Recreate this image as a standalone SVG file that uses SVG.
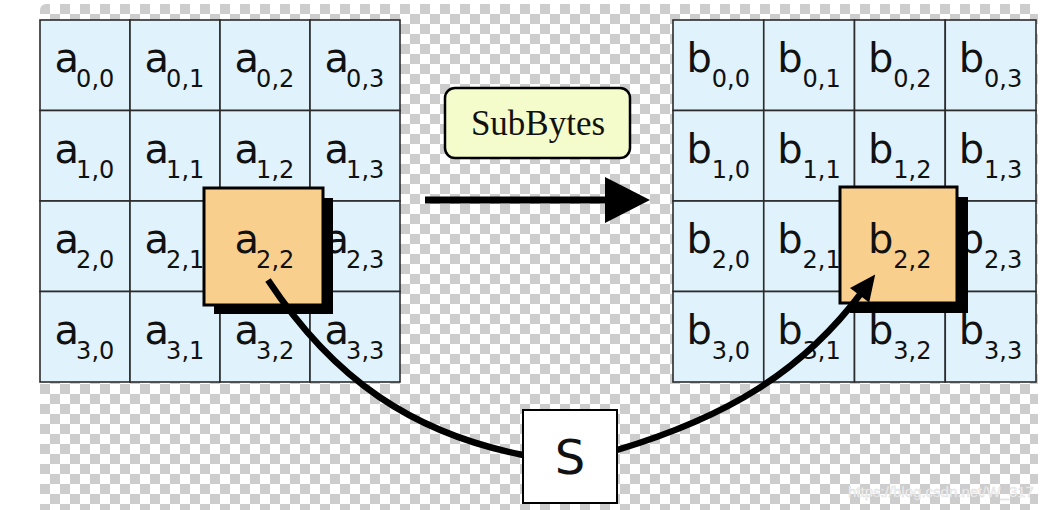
<svg xmlns="http://www.w3.org/2000/svg" width="1052" height="510" viewBox="0 0 1052 510">
<defs>
<pattern id="chk" width="20" height="20" patternUnits="userSpaceOnUse" x="40" y="4">
<rect width="20" height="20" fill="#ffffff"/>
<rect width="10" height="10" fill="#cdcdcd"/>
<rect x="10" y="10" width="10" height="10" fill="#cdcdcd"/>
</pattern>
<marker id="ah" markerUnits="userSpaceOnUse" orient="auto" markerWidth="40" markerHeight="40" refX="0" refY="0" viewBox="-10 -20 40 40" overflow="visible">
<path d="M-4,-12 L22,0 L-4,12 Z" fill="#000"/>
</marker>
</defs>
<style>
.cell{fill:#e0f2fc;stroke:#2b2b2b;stroke-width:1.6}
.lbl{font-family:"DejaVu Sans",sans-serif;font-size:40px;fill:#111}
.sub{font-size:24px}
.hi{fill:#f9cf8d;stroke:#000;stroke-width:3}
.shadow{fill:#000}
.conn{fill:none;stroke:#000;stroke-width:6.5}
</style>
<rect x="0" y="0" width="1052" height="510" fill="#ffffff"/>
<rect x="40" y="4" width="998" height="530" rx="6" fill="url(#chk)"/>

<g id="gridA">
<g id="a00"><rect class="cell" x="40" y="20" width="90" height="90.5"/><text class="lbl" x="54.6" y="72">a<tspan class="sub" dx="-3" dy="15">0,0</tspan></text></g>
<g id="a01"><rect class="cell" x="130" y="20" width="90" height="90.5"/><text class="lbl" x="144.6" y="72">a<tspan class="sub" dx="-3" dy="15">0,1</tspan></text></g>
<g id="a02"><rect class="cell" x="220" y="20" width="90" height="90.5"/><text class="lbl" x="234.6" y="72">a<tspan class="sub" dx="-3" dy="15">0,2</tspan></text></g>
<g id="a03"><rect class="cell" x="310" y="20" width="90" height="90.5"/><text class="lbl" x="324.6" y="72">a<tspan class="sub" dx="-3" dy="15">0,3</tspan></text></g>
<g id="a10"><rect class="cell" x="40" y="110.5" width="90" height="90.5"/><text class="lbl" x="54.6" y="162.5">a<tspan class="sub" dx="-3" dy="15">1,0</tspan></text></g>
<g id="a11"><rect class="cell" x="130" y="110.5" width="90" height="90.5"/><text class="lbl" x="144.6" y="162.5">a<tspan class="sub" dx="-3" dy="15">1,1</tspan></text></g>
<g id="a12"><rect class="cell" x="220" y="110.5" width="90" height="90.5"/><text class="lbl" x="234.6" y="162.5">a<tspan class="sub" dx="-3" dy="15">1,2</tspan></text></g>
<g id="a13"><rect class="cell" x="310" y="110.5" width="90" height="90.5"/><text class="lbl" x="324.6" y="162.5">a<tspan class="sub" dx="-3" dy="15">1,3</tspan></text></g>
<g id="a20"><rect class="cell" x="40" y="201" width="90" height="90.5"/><text class="lbl" x="54.6" y="253">a<tspan class="sub" dx="-3" dy="15">2,0</tspan></text></g>
<g id="a21"><rect class="cell" x="130" y="201" width="90" height="90.5"/><text class="lbl" x="144.6" y="253">a<tspan class="sub" dx="-3" dy="15">2,1</tspan></text></g>
<g id="a23"><rect class="cell" x="310" y="201" width="90" height="90.5"/><text class="lbl" x="324.6" y="253">a<tspan class="sub" dx="-3" dy="15">2,3</tspan></text></g>
<g id="a30"><rect class="cell" x="40" y="291.5" width="90" height="90.5"/><text class="lbl" x="54.6" y="343.5">a<tspan class="sub" dx="-3" dy="15">3,0</tspan></text></g>
<g id="a31"><rect class="cell" x="130" y="291.5" width="90" height="90.5"/><text class="lbl" x="144.6" y="343.5">a<tspan class="sub" dx="-3" dy="15">3,1</tspan></text></g>
<g id="a32"><rect class="cell" x="220" y="291.5" width="90" height="90.5"/><text class="lbl" x="234.6" y="343.5">a<tspan class="sub" dx="-3" dy="15">3,2</tspan></text></g>
<g id="a33"><rect class="cell" x="310" y="291.5" width="90" height="90.5"/><text class="lbl" x="324.6" y="343.5">a<tspan class="sub" dx="-3" dy="15">3,3</tspan></text></g>
<rect x="220" y="201" width="90" height="90.5" class="cell"/>
</g>
<g id="a22">
<rect class="shadow" x="214" y="198" width="119" height="116"/>
<rect class="hi" x="204" y="188" width="119" height="117"/>
<text class="lbl" x="234.6" y="253">a<tspan class="sub" dx="-3" dy="15">2,2</tspan></text>
</g>

<g id="gridB">
<g id="b00"><rect class="cell" x="673" y="20" width="90.75" height="90.5"/><text class="lbl" x="686.4" y="72">b<tspan class="sub" dy="15">0,0</tspan></text></g>
<g id="b01"><rect class="cell" x="763.75" y="20" width="90.75" height="90.5"/><text class="lbl" x="777.2" y="72">b<tspan class="sub" dy="15">0,1</tspan></text></g>
<g id="b02"><rect class="cell" x="854.5" y="20" width="90.75" height="90.5"/><text class="lbl" x="867.9" y="72">b<tspan class="sub" dy="15">0,2</tspan></text></g>
<g id="b03"><rect class="cell" x="945.25" y="20" width="90.75" height="90.5"/><text class="lbl" x="958.7" y="72">b<tspan class="sub" dy="15">0,3</tspan></text></g>
<g id="b10"><rect class="cell" x="673" y="110.5" width="90.75" height="90.5"/><text class="lbl" x="686.4" y="162.5">b<tspan class="sub" dy="15">1,0</tspan></text></g>
<g id="b11"><rect class="cell" x="763.75" y="110.5" width="90.75" height="90.5"/><text class="lbl" x="777.2" y="162.5">b<tspan class="sub" dy="15">1,1</tspan></text></g>
<g id="b12"><rect class="cell" x="854.5" y="110.5" width="90.75" height="90.5"/><text class="lbl" x="867.9" y="162.5">b<tspan class="sub" dy="15">1,2</tspan></text></g>
<g id="b13"><rect class="cell" x="945.25" y="110.5" width="90.75" height="90.5"/><text class="lbl" x="958.7" y="162.5">b<tspan class="sub" dy="15">1,3</tspan></text></g>
<g id="b20"><rect class="cell" x="673" y="201" width="90.75" height="90.5"/><text class="lbl" x="686.4" y="253">b<tspan class="sub" dy="15">2,0</tspan></text></g>
<g id="b21"><rect class="cell" x="763.75" y="201" width="90.75" height="90.5"/><text class="lbl" x="777.2" y="253">b<tspan class="sub" dy="15">2,1</tspan></text></g>
<g id="b23"><rect class="cell" x="945.25" y="201" width="90.75" height="90.5"/><text class="lbl" x="958.7" y="253">b<tspan class="sub" dy="15">2,3</tspan></text></g>
<g id="b30"><rect class="cell" x="673" y="291.5" width="90.75" height="90.5"/><text class="lbl" x="686.4" y="343.5">b<tspan class="sub" dy="15">3,0</tspan></text></g>
<g id="b31"><rect class="cell" x="763.75" y="291.5" width="90.75" height="90.5"/><text class="lbl" x="777.2" y="343.5">b<tspan class="sub" dy="15">3,1</tspan></text></g>
<g id="b32"><rect class="cell" x="854.5" y="291.5" width="90.75" height="90.5"/><text class="lbl" x="867.9" y="343.5">b<tspan class="sub" dy="15">3,2</tspan></text></g>
<g id="b33"><rect class="cell" x="945.25" y="291.5" width="90.75" height="90.5"/><text class="lbl" x="958.7" y="343.5">b<tspan class="sub" dy="15">3,3</tspan></text></g>
<rect x="854.5" y="201" width="90.75" height="90.5" class="cell"/>
</g>
<g id="b22">
<rect class="shadow" x="850" y="197" width="118" height="116"/>
<rect class="hi" x="840" y="187" width="117" height="116"/>
<text class="lbl" x="867.9" y="253">b<tspan class="sub" dy="15">2,2</tspan></text>
</g>

<g id="subbytes">
<rect x="445" y="88" width="185" height="70" rx="10" fill="#f3fcca" stroke="#000" stroke-width="2.5"/>
<text x="538" y="135" text-anchor="middle" font-family="Liberation Serif, serif" font-size="35" fill="#111">SubBytes</text>
</g>

<g id="sbox">
<rect x="523" y="410" width="94" height="93" fill="#fff" stroke="#000" stroke-width="2"/>
<text x="570" y="474" text-anchor="middle" font-family="DejaVu Sans, sans-serif" font-size="48" fill="#111">S</text>
</g>

<g id="connectors">
<line x1="425" y1="200" x2="607" y2="200" stroke="#000" stroke-width="7"/>
<polygon points="605,177 650,200 605,223" fill="#000"/>
<path class="conn" d="M268,280 C334,380 413,433 523,455"/>
<path class="conn" d="M617,450 C727,417 802,372 862,292" marker-end="url(#ah)"/>
</g>

<text x="848" y="497" font-family="Liberation Sans, sans-serif" font-size="15" fill="#f6f6f6" stroke="#d8d8d8" stroke-width="0.4">https://blog.csdn.net/W_317</text>
</svg>
